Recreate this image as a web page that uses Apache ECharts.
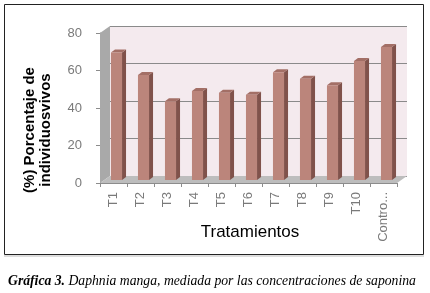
<!DOCTYPE html>
<html>
<head>
<meta charset="utf-8">
<script src="https://cdn.jsdelivr.net/npm/echarts@6/dist/echarts.min.js"></script>
<style>
  html, body { margin: 0; padding: 0; background: #fff; }
  #chart { width: 430px; height: 293px; }
</style>
</head>
<body>
<div id="chart"></div>
<script>
// categorias (tratamientos)
var categories = ["T1", "T2", "T3", "T4", "T5", "T6", "T7", "T8", "T9", "T10", "Control"];
// porcentaje de individuos vivos
var values = [68, 56, 42, 47.5, 46.5, 45.5, 57.5, 54, 50.5, 63.5, 71];
// ticks del eje y
var yTicks = [0, 20, 40, 60, 80];

// plano frontal y fondo (efecto 3D)
var front = { left: 100, top: 33, width: 297, height: 150 };
var depthX = 10, depthY = 7;

var chart = echarts.init(document.getElementById("chart"));

// barra 3D: cara frontal, lateral y superior
function renderBar(params, api) {
  var idx = api.value(0);
  var base = api.coord([idx, 0]);
  var top = api.coord([idx, api.value(1)]);
  var slot = api.size([1, 0])[0];
  var w = slot * 0.41;
  var dx = 3, dy = -3, d = 4, dd = 3;
  var x0 = base[0] - w / 2 + dx;
  var yt = top[1] + dy, yb = base[1] + dy;
  return {
    type: "group",
    children: [
      {
        type: "polygon",
        shape: { points: [[x0 + w, yt], [x0 + w + d, yt - dd], [x0 + w + d, yb - dd], [x0 + w, yb]] },
        style: { fill: "#80524b" }
      },
      {
        type: "polygon",
        shape: { points: [[x0, yt], [x0 + d, yt - dd], [x0 + w + d, yt - dd], [x0 + w, yt]] },
        style: { fill: "#a36f66" }
      },
      {
        type: "rect",
        shape: { x: x0, y: yt, width: w, height: yb - yt },
        style: { fill: "#bb857b" }
      }
    ]
  };
}

var fx = front.left, fy = front.top, fw = front.width, fh = front.height;

chart.setOption({
  backgroundColor: "#fff",
  animation: false,
  grid: [
    // plano frontal (ejes y barras)
    { left: fx, top: fy, width: fw, height: fh, containLabel: false },
    // pared del fondo
    {
      left: fx + depthX, top: fy - depthY, width: fw, height: fh,
      show: true, backgroundColor: "#f4eaee", borderWidth: 0
    }
  ],
  xAxis: [
    {
      type: "category",
      gridIndex: 0,
      data: categories,
      boundaryGap: true,
      axisLine: { lineStyle: { color: "#8c8c8c", width: 1 } },
      axisTick: { show: true, length: 4, lineStyle: { color: "#8c8c8c" } },
      axisLabel: {
        rotate: 90,
        margin: 9,
        color: "#7a7a7a",
        fontFamily: "Liberation Sans",
        fontSize: 13,
        // etiqueta larga recortada como en la original
        formatter: function (v) { return v.length > 6 ? v.slice(0, 6) + "..." : v; }
      }
    },
    {
      type: "category",
      gridIndex: 1,
      data: categories,
      show: false
    }
  ],
  yAxis: [
    {
      type: "value",
      gridIndex: 0,
      min: 0,
      max: 80,
      interval: 20,
      axisLine: { show: true, lineStyle: { color: "#8c8c8c", width: 1 } },
      axisTick: { show: true, length: 4, lineStyle: { color: "#8c8c8c" } },
      splitLine: { show: false },
      axisLabel: {
        margin: 18,
        color: "#7a7a7a",
        fontFamily: "Liberation Sans",
        fontSize: 13,
        formatter: function (v) { return yTicks.indexOf(v) >= 0 ? String(v) : ""; }
      }
    },
    {
      type: "value",
      gridIndex: 1,
      min: 0,
      max: 80,
      interval: 20,
      axisLine: { show: false },
      axisTick: { show: false },
      axisLabel: { show: false },
      splitLine: { show: true, lineStyle: { color: "#8a8a8a", width: 1 } }
    }
  ],
  graphic: [
    // marco
    {
      type: "rect", z: 0,
      shape: { x: 4.5, y: 4.5, width: 419, height: 250 },
      style: { fill: null, stroke: "#222", lineWidth: 1 }
    },
    {
      type: "line", z: 0,
      shape: { x1: 4, y1: 256, x2: 424, y2: 256 },
      style: { stroke: "#bbb", lineWidth: 1 }
    },
    // pared izquierda
    {
      type: "polygon", z: 1,
      shape: { points: [[fx, fy], [fx + depthX, fy - depthY], [fx + depthX, fy + fh - depthY], [fx, fy + fh]] },
      style: { fill: "#a9a9a9" }
    },
    // piso
    {
      type: "polygon", z: 1,
      shape: { points: [[fx, fy + fh], [fx + depthX, fy + fh - depthY], [fx + fw + depthX, fy + fh - depthY], [fx + fw, fy + fh]] },
      style: { fill: "#bdbdbd" }
    },
    // titulo eje y
    {
      type: "text",
      x: 38, y: 130,
      rotation: Math.PI / 2,
      style: {
        text: "(%) Porcentaje de\nindividuosvivos",
        font: "bold 15px 'Liberation Sans'",
        fill: "#000",
        align: "center",
        verticalAlign: "middle",
        lineHeight: 16
      }
    },
    // titulo eje x
    {
      type: "text",
      x: 250, y: 232,
      style: {
        text: "Tratamientos",
        font: "17px 'Liberation Sans'",
        fill: "#000",
        align: "center",
        verticalAlign: "middle"
      }
    },
    // leyenda de la grafica
    {
      type: "text",
      x: 8, y: 281,
      style: {
        text: "{b|Gráfica 3.} Daphnia manga, mediada por las concentraciones de saponina",
        font: "italic 13.7px 'Liberation Serif'",
        fill: "#000",
        verticalAlign: "middle",
        rich: {
          b: { font: "italic bold 13.7px 'Liberation Serif'", fill: "#000" }
        }
      }
    }
  ],
  series: [
    {
      type: "custom",
      xAxisIndex: 0,
      yAxisIndex: 0,
      z: 5,
      renderItem: renderBar,
      data: values.map(function (v, i) { return [i, v]; })
    }
  ]
});
</script>
</body>
</html>
